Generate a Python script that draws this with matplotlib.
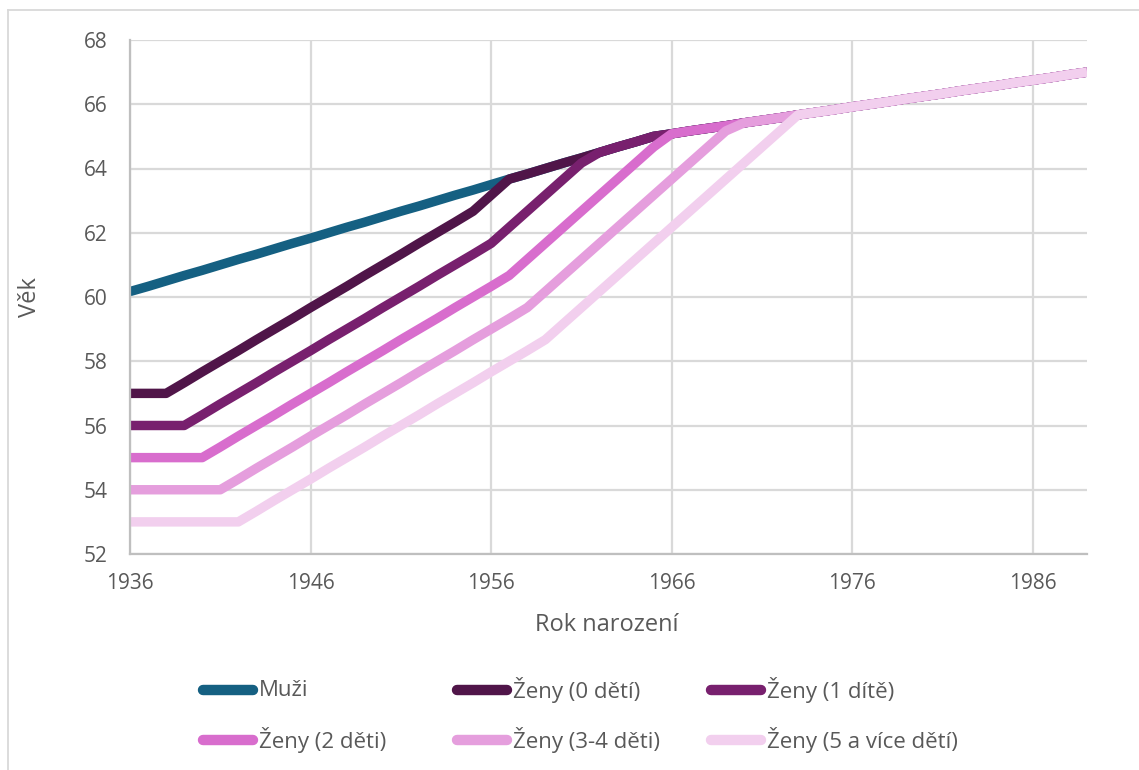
import matplotlib.pyplot as plt
from matplotlib.lines import Line2D

plt.rcParams['font.family'] = ['Open Sans', 'DejaVu Sans']

years = list(range(1936, 1990))

# vek odchodu do duchodu (roky), podle roku narozeni
muzi = [60.17, 60.33, 60.5, 60.67, 60.83, 61.0, 61.17, 61.33, 61.5, 61.67,
        61.83, 62.0, 62.17, 62.33, 62.5, 62.67, 62.83, 63.0, 63.17, 63.33,
        63.5, 63.67, 63.83, 64.0, 64.17, 64.33, 64.5, 64.67, 64.83, 65.0,
        65.08, 65.17, 65.25, 65.33, 65.42, 65.5, 65.58, 65.67, 65.75, 65.83,
        65.92, 66.0, 66.08, 66.17, 66.25, 66.33, 66.42, 66.5, 66.58, 66.67,
        66.75, 66.83, 66.92, 67.0]
zeny_0 = [57.0, 57.0, 57.0, 57.33, 57.67, 58.0, 58.33, 58.67, 59.0, 59.33,
          59.67, 60.0, 60.33, 60.67, 61.0, 61.33, 61.67, 62.0, 62.33, 62.67,
          63.17, 63.67] + muzi[22:]
zeny_1 = [56.0, 56.0, 56.0, 56.0, 56.33, 56.67, 57.0, 57.33, 57.67, 58.0,
          58.33, 58.67, 59.0, 59.33, 59.67, 60.0, 60.33, 60.67, 61.0, 61.33,
          61.67, 62.17, 62.67, 63.17, 63.67, 64.17, 64.5] + muzi[27:]
zeny_2 = [55.0, 55.0, 55.0, 55.0, 55.0, 55.33, 55.67, 56.0, 56.33, 56.67,
          57.0, 57.33, 57.67, 58.0, 58.33, 58.67, 59.0, 59.33, 59.67, 60.0,
          60.33, 60.67, 61.17, 61.67, 62.17, 62.67, 63.17, 63.67, 64.17, 64.67,
          65.08] + muzi[31:]
zeny_34 = [54.0, 54.0, 54.0, 54.0, 54.0, 54.0, 54.33, 54.67, 55.0, 55.33,
           55.67, 56.0, 56.33, 56.67, 57.0, 57.33, 57.67, 58.0, 58.33, 58.67,
           59.0, 59.33, 59.67, 60.17, 60.67, 61.17, 61.67, 62.17, 62.67, 63.17,
           63.67, 64.17, 64.67, 65.17, 65.42] + muzi[35:]
zeny_5 = [53.0, 53.0, 53.0, 53.0, 53.0, 53.0, 53.0, 53.33, 53.67, 54.0,
          54.33, 54.67, 55.0, 55.33, 55.67, 56.0, 56.33, 56.67, 57.0, 57.33,
          57.67, 58.0, 58.33, 58.67, 59.17, 59.67, 60.17, 60.67, 61.17, 61.67,
          62.17, 62.67, 63.17, 63.67, 64.17, 64.67, 65.17, 65.67] + muzi[38:]

labels = ["Muži", "Ženy (0 dětí)", "Ženy (1 dítě)",
          "Ženy (2 děti)", "Ženy (3-4 děti)", "Ženy (5 a více dětí)"]
series = [muzi, zeny_0, zeny_1, zeny_2, zeny_34, zeny_5]
colors = ["#156082", "#501549", "#78206E", "#D86DCD", "#E59EDD", "#F2CFEE"]

W, H = 1139, 770
fig = plt.figure(figsize=(W / 100, H / 100), dpi=100)
ax = fig.add_axes([130 / W, 1 - 554 / H, 957 / W, 514 / H])

for vals, col, lab in zip(series, colors, labels):
    ax.plot(years, vals, color=col, lw=6.8, solid_joinstyle='round',
            solid_capstyle='butt', label=lab)

ax.set_xlim(1936, 1989)
ax.set_ylim(52, 68)
ax.set_xticks(range(1936, 1990, 10))
ax.set_yticks(range(52, 69, 2))
ax.grid(color="#d9d9d9", lw=1.6)
ax.set_axisbelow(True)
for s in ["top", "right"]:
    ax.spines[s].set_visible(False)
for s in ["left", "bottom"]:
    ax.spines[s].set_color("#bfbfbf")
    ax.spines[s].set_linewidth(1.6)
ax.tick_params(axis="x", length=0, labelsize=15, labelcolor="#595959", pad=14)
ax.tick_params(axis="y", length=0, labelsize=15, labelcolor="#595959", pad=16)
ax.set_xlabel("Rok narození", fontsize=17, color="#595959")
ax.set_ylabel("Věk", fontsize=17, color="#595959")
ax.xaxis.set_label_coords((607 - 130) / 957, -(613 - 554) / 514)
ax.yaxis.set_label_coords((42 - 130) / 957, 0.5)

# legenda: 2 radky po 3 polozkach
col_x = [198, 452, 706]
row_y = [690, 740]
for i, (lab, col) in enumerate(zip(labels, colors)):
    x0 = col_x[i % 3]
    y0 = 1 - row_y[i // 3] / H
    fig.add_artist(Line2D([(x0 + 5) / W, (x0 + 55) / W], [y0, y0], color=col,
                          lw=7.5, solid_capstyle='round'))
    fig.text((x0 + 61) / W, y0, lab, fontsize=16, color="#595959", va="center")

# ramecek grafu
fig.add_artist(Line2D([8 / W, 8 / W], [0, 1 - 10 / H], color="#d9d9d9", lw=1.3))
fig.add_artist(Line2D([8 / W, 1], [1 - 10 / H, 1 - 10 / H], color="#d9d9d9", lw=1.3))

fig.savefig("out.png", dpi=100)
